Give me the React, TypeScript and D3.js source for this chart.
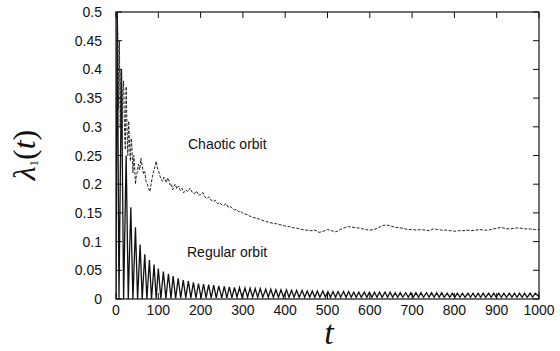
import * as d3 from "d3";

// tick values
const xTicks = [0, 100, 200, 300, 400, 500, 600, 700, 800, 900, 1000];
const yTicks = [0, 0.05, 0.1, 0.15, 0.2, 0.25, 0.3, 0.35, 0.4, 0.45, 0.5];
const yTickLabels = ["0", "0.05", "0.1", "0.15", "0.2", "0.25", "0.3", "0.35", "0.4", "0.45", "0.5"];

// chaotic orbit, [t, lambda]
const chaoticOrbit: [number, number][] = [
  [0, 0.52], [2, 0.5], [4, 0.47], [6, 0.33], [8, 0.45], [10, 0.3], [12, 0.4], [14, 0.28],
  [16, 0.36], [18, 0.38], [20, 0.3], [22, 0.26], [24, 0.37], [26, 0.3], [28, 0.25], [30, 0.31],
  [32, 0.27], [34, 0.24], [36, 0.28], [38, 0.26], [40, 0.22], [42, 0.25], [44, 0.23], [46, 0.2],
  [48, 0.215], [50, 0.22], [53, 0.235], [56, 0.225], [59, 0.245], [62, 0.232], [65, 0.218],
  [68, 0.222], [71, 0.205], [74, 0.2], [77, 0.193], [80, 0.187], [83, 0.2], [86, 0.213],
  [89, 0.222], [92, 0.23], [95, 0.24], [98, 0.228], [101, 0.222], [104, 0.214], [107, 0.209],
  [110, 0.205], [113, 0.212], [116, 0.208], [119, 0.203], [122, 0.211], [125, 0.207],
  [128, 0.198], [131, 0.2], [134, 0.19], [137, 0.196], [140, 0.2], [144, 0.192], [148, 0.197],
  [152, 0.189], [156, 0.193], [160, 0.185], [165, 0.19], [170, 0.187], [175, 0.193],
  [180, 0.186], [185, 0.183], [190, 0.188], [195, 0.181], [200, 0.182], [205, 0.186],
  [210, 0.178], [215, 0.175], [220, 0.178], [225, 0.172], [230, 0.17], [235, 0.172],
  [240, 0.166], [245, 0.168], [250, 0.164], [255, 0.163], [260, 0.166], [265, 0.16],
  [270, 0.161], [275, 0.158], [280, 0.155], [285, 0.156], [290, 0.152], [295, 0.153],
  [300, 0.149], [310, 0.147], [320, 0.143], [330, 0.141], [340, 0.139], [350, 0.136],
  [360, 0.134], [370, 0.132], [380, 0.131], [390, 0.129], [400, 0.127], [410, 0.126],
  [420, 0.124], [430, 0.123], [440, 0.121], [450, 0.12], [460, 0.119], [470, 0.12],
  [480, 0.116], [490, 0.118], [500, 0.121], [510, 0.119], [520, 0.117], [530, 0.121],
  [540, 0.124], [550, 0.126], [560, 0.125], [570, 0.124], [580, 0.123], [590, 0.121],
  [600, 0.12], [610, 0.121], [620, 0.124], [630, 0.128], [640, 0.129], [650, 0.127],
  [660, 0.125], [670, 0.124], [680, 0.123], [690, 0.121], [700, 0.121], [710, 0.12],
  [720, 0.121], [730, 0.12], [740, 0.119], [750, 0.122], [760, 0.121], [770, 0.12],
  [780, 0.12], [790, 0.119], [800, 0.118], [810, 0.119], [820, 0.119], [830, 0.12],
  [840, 0.119], [850, 0.12], [860, 0.121], [870, 0.12], [880, 0.12], [890, 0.122],
  [900, 0.123], [910, 0.125], [920, 0.123], [930, 0.122], [940, 0.123], [950, 0.124],
  [960, 0.123], [970, 0.122], [980, 0.122], [990, 0.121], [1000, 0.121],
];

// regular orbit, [t, lambda] peaks and troughs
const regularOrbit: [number, number][] = [
  [0, 0], [3, 0.52], [7, 0], [13, 0.4], [18, 0], [24, 0.25], [29, 0], [35, 0.16], [40, 0],
  [46, 0.125], [51, 0], [57, 0.095], [62, 0], [68, 0.078], [73, 0], [79, 0.068], [84, 0],
  [90, 0.06], [95, 0.001], [100, 0.053], [106, 0.001], [112, 0.048], [118, 0.001],
  [124, 0.044], [130, 0.001], [135, 0.04], [141, 0.001], [147, 0.036], [153, 0.002],
  [159, 0.033], [165, 0.002], [171, 0.031], [177, 0.002], [183, 0.029], [189, 0.002],
  [195, 0.027], [201, 0.002], [207, 0.026], [213, 0.002], [219, 0.025], [225, 0.002],
  [231, 0.024], [237, 0.002], [243, 0.023], [250, 0.002], [256, 0.022], [262, 0.002],
  [268, 0.021], [274, 0.002], [280, 0.02], [286, 0.003], [292, 0.02], [298, 0.003],
  [305, 0.019], [311, 0.003], [317, 0.019], [323, 0.003], [329, 0.018], [335, 0.003],
  [341, 0.018], [347, 0.003], [354, 0.017], [360, 0.003], [366, 0.017], [372, 0.003],
  [378, 0.016], [384, 0.003], [390, 0.016], [396, 0.003], [403, 0.016], [409, 0.003],
  [415, 0.015], [421, 0.003], [427, 0.015], [433, 0.003], [440, 0.015], [446, 0.003],
  [452, 0.014], [458, 0.003], [464, 0.014], [470, 0.003], [476, 0.014], [482, 0.003],
  [489, 0.014], [495, 0.003], [501, 0.013], [507, 0.003], [513, 0.013], [519, 0.003],
  [525, 0.013], [531, 0.003], [538, 0.013], [544, 0.003], [550, 0.013], [556, 0.003],
  [562, 0.012], [568, 0.003], [574, 0.012], [580, 0.003], [587, 0.012], [593, 0.003],
  [599, 0.012], [605, 0.003], [611, 0.012], [617, 0.003], [623, 0.012], [629, 0.003],
  [636, 0.012], [642, 0.003], [648, 0.012], [654, 0.003], [660, 0.011], [666, 0.003],
  [672, 0.011], [678, 0.003], [685, 0.011], [691, 0.003], [697, 0.011], [703, 0.003],
  [709, 0.011], [715, 0.003], [721, 0.011], [727, 0.003], [734, 0.011], [740, 0.003],
  [746, 0.011], [752, 0.003], [758, 0.011], [764, 0.003], [770, 0.011], [776, 0.003],
  [783, 0.01], [789, 0.003], [795, 0.01], [801, 0.003], [807, 0.01], [813, 0.003],
  [819, 0.01], [825, 0.003], [832, 0.01], [838, 0.003], [844, 0.01], [850, 0.003],
  [856, 0.01], [862, 0.003], [868, 0.01], [874, 0.003], [881, 0.01], [887, 0.003],
  [893, 0.01], [899, 0.003], [905, 0.01], [911, 0.003], [917, 0.01], [923, 0.003],
  [930, 0.01], [936, 0.003], [942, 0.01], [948, 0.003], [954, 0.01], [960, 0.003],
  [966, 0.01], [972, 0.003], [979, 0.01], [985, 0.003], [991, 0.01], [1000, 0.004],
];

const W = 560;
const H = 351;
const left = 116;
const right = 539;
const top = 12;
const bottom = 299;
const tickLen = 6;
const sans = "'Liberation Sans', Arial, sans-serif";
const serif = "'Liberation Serif', 'Times New Roman', serif";

export default function App() {
  const x = d3.scaleLinear().domain([0, 1000]).range([left, right]);
  const y = d3.scaleLinear().domain([0, 0.5]).range([bottom, top]);
  const line = d3
    .line<[number, number]>()
    .x((d) => x(d[0]))
    .y((d) => y(d[1]));

  return (
    <svg
      width={W}
      height={H}
      style={{ position: "absolute", left: 0, top: 0, background: "#fff" }}
    >
      <defs>
        <clipPath id="plot">
          <rect x={left} y={top} width={right - left} height={bottom - top} />
        </clipPath>
      </defs>

      <g clipPath="url(#plot)">
        <path
          d={line(regularOrbit) ?? ""}
          fill="none"
          stroke="#111"
          strokeWidth={1.3}
        />
        <path
          d={line(chaoticOrbit) ?? ""}
          fill="none"
          stroke="#222"
          strokeWidth={1}
          strokeDasharray="3,1.5"
        />
      </g>

      {/* frame */}
      <rect
        x={left}
        y={top}
        width={right - left}
        height={bottom - top}
        fill="none"
        stroke="#111"
        strokeWidth={1.2}
      />

      {/* x ticks, bottom and top */}
      {xTicks.map((t) => (
        <g key={"x" + t}>
          <line x1={x(t)} x2={x(t)} y1={bottom} y2={bottom - tickLen} stroke="#111" />
          <line x1={x(t)} x2={x(t)} y1={top} y2={top + tickLen} stroke="#111" />
          <text
            x={x(t)}
            y={bottom + 16}
            textAnchor="middle"
            fontFamily={sans}
            fontSize={14}
            fill="#111"
          >
            {t}
          </text>
        </g>
      ))}

      {/* y ticks, left and right */}
      {yTicks.map((v, i) => (
        <g key={"y" + v}>
          <line x1={left} x2={left + tickLen} y1={y(v)} y2={y(v)} stroke="#111" />
          <line x1={right} x2={right - tickLen} y1={y(v)} y2={y(v)} stroke="#111" />
          <text
            x={left - 14}
            y={y(v) + 5}
            textAnchor="end"
            fontFamily={sans}
            fontSize={14}
            fill="#111"
          >
            {yTickLabels[i]}
          </text>
        </g>
      ))}

      <text x={188} y={149} fontFamily={sans} fontSize={14} fill="#111">
        Chaotic orbit
      </text>
      <text x={187} y={257} fontFamily={sans} fontSize={14} fill="#111">
        Regular orbit
      </text>

      {/* axis titles */}
      <text
        x={329}
        y={344}
        textAnchor="middle"
        fontFamily={serif}
        fontStyle="italic"
        fontSize={34}
        fill="#111"
      >
        t
      </text>
      <text
        transform="translate(35,155) rotate(-90)"
        textAnchor="middle"
        fontFamily={serif}
        fontSize={32}
        fill="#111"
      >
        <tspan fontStyle="italic">λ</tspan>
        <tspan fontSize={13} dy={3}>1</tspan>
        <tspan dy={-3}>(</tspan>
        <tspan fontStyle="italic">t</tspan>
        <tspan>)</tspan>
      </text>
    </svg>
  );
}
